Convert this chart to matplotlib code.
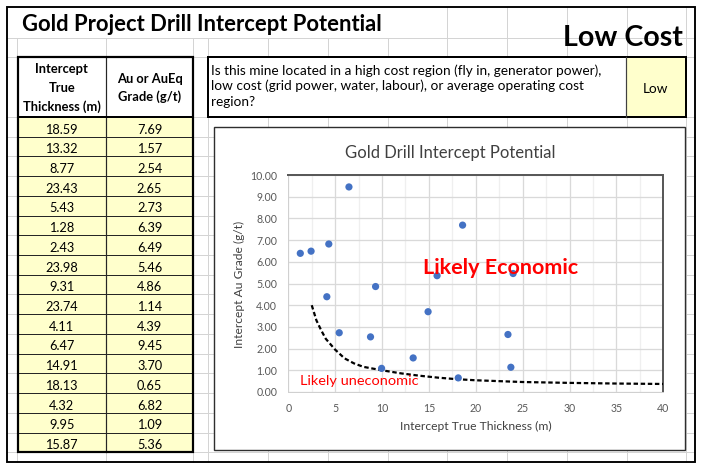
import matplotlib
matplotlib.use("Agg")
import matplotlib.pyplot as plt
from matplotlib.patches import Rectangle
import numpy as np

plt.rcParams['font.family'] = ['Lato', 'DejaVu Sans']

# ---------------- data ----------------
sheet_title = "Gold Project Drill Intercept Potential"
cost_label = "Low Cost"
question_lines = ["Is this mine located in a high cost region (fly in, generator power),",
                  "low cost (grid power, water, labour), or average operating cost",
                  "region?"]
answer = "Low"
header_thick = ["Intercept", "True", "Thickness (m)"]
header_grade = ["Au or AuEq", "Grade (g/t)"]

thickness = [18.59, 13.32, 8.77, 23.43, 5.43, 1.28, 2.43, 23.98, 9.31,
             23.74, 4.11, 6.47, 14.91, 18.13, 4.32, 9.95, 15.87]
grade = [7.69, 1.57, 2.54, 2.65, 2.73, 6.39, 6.49, 5.46, 4.86,
         1.14, 4.39, 9.45, 3.70, 0.65, 6.82, 1.09, 5.36]

# break-even (economic cut-off) curve
cutoff_x = [2.5, 3, 3.5, 4, 5, 6, 7, 8, 10, 12, 14, 16, 18, 20, 25, 30, 35, 40]
cutoff_y = [4.0, 3.3, 2.85, 2.45, 1.95, 1.55, 1.32, 1.16, 1.0, 0.86, 0.75,
            0.66, 0.59, 0.54, 0.46, 0.42, 0.39, 0.37]

chart_title = "Gold Drill Intercept Potential"
x_label = "Intercept True Thickness (m)"
y_label = "Intercept Au Grade (g/t)"
x_ticks = [0, 5, 10, 15, 20, 25, 30, 35, 40]
y_ticks = [0, 1, 2, 3, 4, 5, 6, 7, 8, 9, 10]
label_econ = "Likely Economic"
label_unecon = "Likely uneconomic"

# ---------------- figure ----------------
W, H = 702, 468
fig = plt.figure(figsize=(W / 100, H / 100), dpi=100)
fig.patch.set_facecolor("white")
bg = fig.add_axes([0, 0, 1, 1])
bg.set_xlim(0, W)
bg.set_ylim(H, 0)
bg.axis("off")
renderer = fig.canvas.get_renderer()

def fit_width(t, target):
    w = t.get_window_extent(renderer).width
    if w > 0:
        t.set_fontsize(t.get_fontsize() * target / w)

def fit_height(t, target):
    h = t.get_window_extent(renderer).height
    if h > 0:
        t.set_fontsize(t.get_fontsize() * target / h)

PX = 0.72  # points per pixel
grid_c = "#D4D4D4"

frame_l, frame_t, frame_r, frame_b = 6.5, 7, 694.5, 462
col_lines = [17, 106, 193, 207.5, 267.5, 327.5, 387.5, 447, 507, 567, 627, 686]
row_h = 19.72
row_lines = [38, 57, 117] + [117 + row_h * k for k in range(1, 18)]

# spreadsheet gridlines
for x in col_lines:
    top = frame_t if x >= 440 else 38
    bg.plot([x, x], [top, frame_b], color=grid_c, lw=PX, zorder=1)
for y in row_lines:
    bg.plot([frame_l, frame_r], [y, y], color=grid_c, lw=PX, zorder=1)

# outer frame
bg.add_patch(Rectangle((frame_l, frame_t), frame_r - frame_l, frame_b - frame_t,
                       fill=False, ec="black", lw=1.9 * PX, zorder=10))

# sheet title and cost label
t = bg.text(22, 31, sheet_title, fontsize=16, fontweight="bold", ha="left",
            va="baseline", color="black", zorder=5)
fit_width(t, 361)
t = bg.text(683, 46.5, cost_label, fontsize=20, fontweight="bold", ha="right",
            va="baseline", color="black", zorder=5)
fit_width(t, 120)

# question box
bg.add_patch(Rectangle((207.5, 57), 626 - 207.5, 60, fc="white", ec="none", zorder=2))
bg.add_patch(Rectangle((626, 57), 60, 60, fc="#FFFFCC", ec="none", zorder=2))
bg.add_patch(Rectangle((207.5, 57), 686 - 207.5, 60, fill=False, ec="black",
                       lw=2 * PX, zorder=4))
bg.plot([626, 626], [57, 117], color="#404040", lw=1.2 * PX, zorder=4)
qs = None
for i, line in enumerate(question_lines):
    t = bg.text(211, 75 + 15.5 * i, line, fontsize=9, ha="left", va="baseline",
                color="black", zorder=5)
    if i == 0:
        fit_width(t, 392)
        qs = t.get_fontsize()
    else:
        t.set_fontsize(qs)
bg.text(656, 93, answer, fontsize=qs, ha="center", va="baseline", color="black", zorder=5)

# data table
tl, tm, tr = 17.5, 106, 193
bg.add_patch(Rectangle((tl, 57), tr - tl, 60, fc="white", ec="none", zorder=2))
n = len(thickness)
bg.add_patch(Rectangle((tl, 117), tr - tl, row_h * n, fc="#FFFFCC", ec="none", zorder=2))
for k in range(1, n):
    y = 117 + row_h * k
    bg.plot([tl, tr], [y, y], color="#262626", lw=1.0 * PX, zorder=3)
bg.plot([tm, tm], [57, 117 + row_h * n], color="#262626", lw=1.2 * PX, zorder=3)
bg.plot([tl, tr], [117, 117], color="black", lw=2 * PX, zorder=4)
bg.add_patch(Rectangle((tl, 57), tr - tl, 60 + row_h * n, fill=False, ec="black",
                       lw=2.2 * PX, zorder=4))
hdr = []
for i, line in enumerate(header_thick):
    hdr.append(bg.text((tl + tm) / 2, 73 + 19 * i, line, fontsize=10, fontweight="bold",
                       ha="center", va="baseline", color="black", zorder=5))
fit_width(hdr[2], 78)
hs = hdr[2].get_fontsize()
for tt in hdr:
    tt.set_fontsize(hs)
for i, line in enumerate(header_grade):
    bg.text((tm + tr) / 2, 83 + 18 * i, line, fontsize=hs, fontweight="bold",
            ha="center", va="baseline", color="black", zorder=5)
ds = None
for i, (a, b) in enumerate(zip(thickness, grade)):
    yb = 117 + row_h * i + 16.5
    t1 = bg.text((tl + tm) / 2, yb, f"{a:.2f}", fontsize=10, ha="center",
                 va="baseline", color="black", zorder=5)
    if ds is None:
        fit_width(t1, 32.5)
        ds = t1.get_fontsize()
    t1.set_fontsize(ds)
    bg.text((tm + tr) / 2, yb, f"{b:.2f}", fontsize=ds, ha="center",
            va="baseline", color="black", zorder=5)

# chart box
bg.add_patch(Rectangle((214, 127), 685 - 214, 450 - 127, fc="white", ec="#2E2E2E",
                       lw=1.4 * PX, zorder=6))

# ---------------- chart ----------------
pl, pr, pt, pb = 288.3, 663.3, 175, 392
ax = fig.add_axes([pl / W, 1 - pb / H, (pr - pl) / W, (pb - pt) / H], zorder=7)
ax.set_facecolor("white")
ax.set_xlim(0, 40)
ax.set_ylim(0, 10)
ax.set_xticks(x_ticks)
ax.set_yticks(y_ticks)
ax.set_xticklabels([str(v) for v in x_ticks])
ax.set_yticklabels([f"{v:.2f}" for v in y_ticks])
ax.set_xticks(np.arange(2.5, 40, 5), minor=True)
ax.tick_params(which="both", length=0, colors="#595959", labelsize=7.6)
ax.tick_params(axis="x", pad=8)
ax.tick_params(axis="y", pad=8)
ax.grid(which="major", axis="both", color="#D9D9D9", lw=1.3 * PX, zorder=0)
ax.grid(which="minor", axis="x", color="#EFEFEF", lw=1.3 * PX, zorder=0)
ax.set_axisbelow(True)
for s in ["top", "right"]:
    ax.spines[s].set_color("#595959")
    ax.spines[s].set_linewidth(2.0 * PX)
for s in ["left", "bottom"]:
    ax.spines[s].set_color("#D0D0D0")
    ax.spines[s].set_linewidth(1.0 * PX)

ax.plot(cutoff_x, cutoff_y, color="black", lw=1.6, linestyle=(0, (2.0, 1.2)),
        zorder=3)
ax.scatter(thickness, grade, s=27, color="#4472C4", edgecolors="none", zorder=4)

t = ax.text(14.4, 5.72, label_econ, color="#FF0000", fontweight="bold",
            fontsize=14, ha="left", va="center", zorder=5)
fit_width(t, 155)
t = ax.text(1.3, 0.52, label_unecon, color="#FF0000", fontsize=10, ha="left",
            va="center", zorder=5)
fit_width(t, 118)

t = ax.text((450 - pl) / (pr - pl), (pb - 153) / (pb - pt), chart_title,
            transform=ax.transAxes, ha="center", va="center", fontsize=13,
            color="#404040")
fit_width(t, 210)
t = ax.text((476 - pl) / (pr - pl), (pb - 426) / (pb - pt), x_label,
            transform=ax.transAxes, ha="center", va="center", fontsize=8.5,
            color="#404040")
fit_width(t, 152)
t = ax.text((239 - pl) / (pr - pl), (pb - 284) / (pb - pt), y_label,
            transform=ax.transAxes, ha="center", va="center", fontsize=8.5,
            rotation=90, color="#404040")
fit_height(t, 127)

fig.savefig("out.png", dpi=100, facecolor="white")
